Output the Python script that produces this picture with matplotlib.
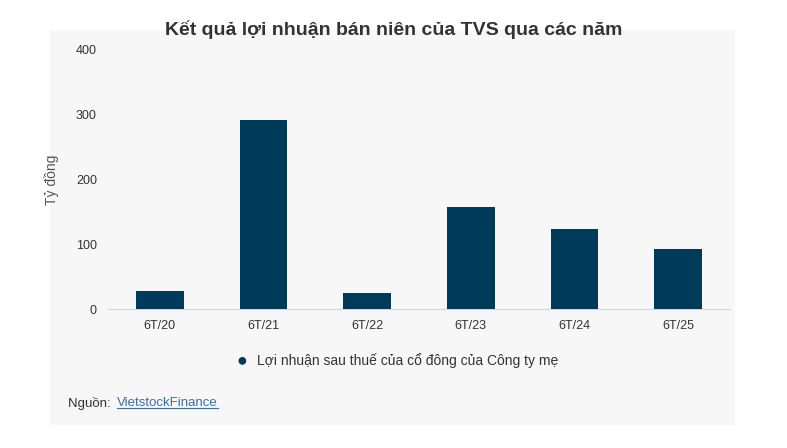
import matplotlib
matplotlib.use("Agg")
import matplotlib.pyplot as plt
from matplotlib.patches import Rectangle

categories = ["6T/20", "6T/21", "6T/22", "6T/23", "6T/24", "6T/25"]
values = [28, 292, 25, 158, 124, 93]
yticks = [0, 100, 200, 300, 400]

plt.rcParams['font.family'] = ['Liberation Sans', 'DejaVu Sans']
fig = plt.figure(figsize=(7.87, 4.48), dpi=100)
fig.patches.append(Rectangle((50/787, 1-425/448), 685/787, 395/448, transform=fig.transFigure,
                             facecolor="#f7f7f7", edgecolor="none", zorder=-1))
ax = fig.add_axes([108/787, 1-309/448, 622/787, 259/448])
ax.set_facecolor("#f7f7f7")
ax.bar(range(len(categories)), values, width=0.46, color="#003a5a", zorder=3)
ax.set_xlim(-0.5, 5.5)
ax.set_ylim(0, 400)
ax.set_yticks(yticks)
ax.set_xticks(range(len(categories)))
ax.set_xticklabels(categories, fontsize=9, color="#333333")
ax.tick_params(axis='y', labelsize=9, colors="#333333", length=0, pad=8)
ax.tick_params(axis='x', length=0, pad=8)
for s in ["top", "right", "left"]:
    ax.spines[s].set_visible(False)
ax.spines["bottom"].set_color("#ccd6eb")
ax.set_ylabel("Tỷ đồng", fontsize=10, color="#555555", labelpad=12)
fig.text(0.5, 1-30/448, "Kết quả lợi nhuận bán niên của TVS qua các năm", ha="center",
         va="center", fontsize=14, fontweight="bold", color="#333333")
fig.text(237/787, 1-361/448, "●", ha="left", va="center", fontsize=13, color="#003a5a")
fig.text(257/787, 1-361/448, "Lợi nhuận sau thuế của cổ đông của Công ty mẹ", ha="left",
         va="center", fontsize=10, color="#333333")
fig.text(68/787, 1-403/448, "Nguồn: ", ha="left", va="center", fontsize=9.5, color="#333333")
fig.text(117/787, 1-403/448, "VietstockFinance", ha="left", va="center", fontsize=9.5,
         color="#3a6ea5", underline=True) if False else None
t = fig.text(117/787, 1-403/448, "VietstockFinance", ha="left", va="center", fontsize=9.5, color="#3a6ea5")
fig.canvas.draw()
bb = t.get_window_extent()
fig.add_artist(plt.Line2D([bb.x0/787, bb.x1/787], [(bb.y0+1)/448]*2, color="#3a6ea5", lw=0.8))
fig.savefig("out.png", dpi=100)
